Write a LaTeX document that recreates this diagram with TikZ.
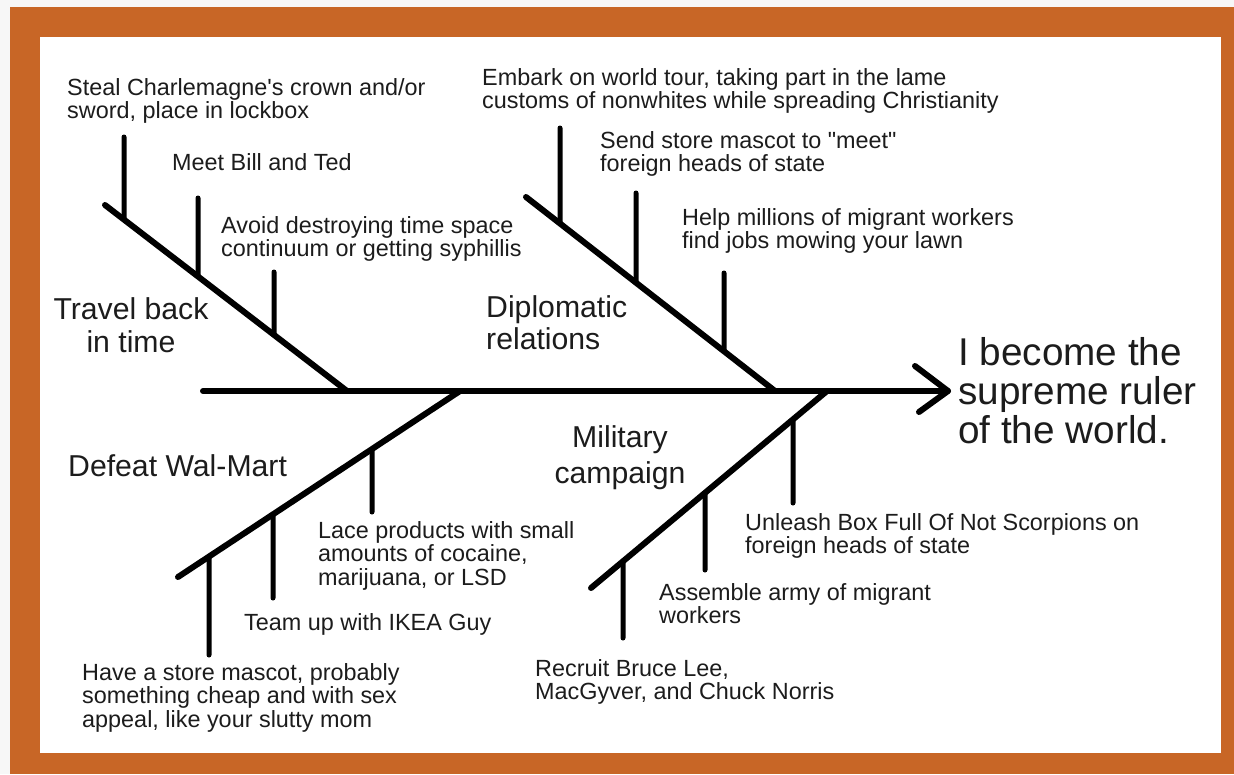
\documentclass[tikz,border=0pt]{standalone}
\usepackage{fontspec}
\setmainfont{Liberation Sans}[Ligatures=TeXOff]
\definecolor{frameorange}{RGB}{200,102,38}
\definecolor{ink}{RGB}{28,28,28}
\definecolor{paper}{RGB}{247,247,247}
\begin{document}
\begin{tikzpicture}[x=1pt,y=-1pt,
  bone/.style={line width=6pt,line cap=round,draw=black},
  twig/.style={line width=5pt,line cap=round,draw=black},
  cause/.style={anchor=base west,inner sep=0pt,align=left,text=ink,font=\fontsize{23.4}{23.5}\selectfont},
  cat/.style={anchor=base west,inner sep=0pt,align=left,text=ink,font=\fontsize{30.2}{32}\selectfont},
  catc/.style={anchor=base,inner sep=0pt,align=center,text=ink,font=\fontsize{30.2}{33}\selectfont},
  goal/.style={anchor=base west,inner sep=0pt,align=left,text=ink,font=\fontsize{38.7}{38.6}\selectfont}]
\useasboundingbox (0,0) rectangle (1234,774);
\fill[paper] (0,0) rectangle (1234,774);
\fill[frameorange] (10,7) rectangle (1234,774);
\fill[white] (40,37) rectangle (1221,753);

% spine and arrow
\coordinate (S) at (203,391);
\coordinate (H) at (948,391);
\coordinate (A1) at (915,366);
\coordinate (A2) at (919,412);
\draw[bone] (S) -- (H);
\draw[bone,line join=round] (A1) -- (H) -- (A2);

% main bones
\coordinate (T1) at (105,205); \coordinate (T2) at (347,391);
\coordinate (D1) at (526,197); \coordinate (D2) at (775,391);
\coordinate (W1) at (460,391); \coordinate (W2) at (178,577);
\coordinate (M1) at (827,391); \coordinate (M2) at (591,588);
\draw[bone] (T1) -- (T2);
\draw[bone] (D1) -- (D2);
\draw[bone] (W1) -- (W2);
\draw[bone] (M1) -- (M2);

% twigs: free ends
\coordinate (t1) at (124,137); \coordinate (t2) at (198,198); \coordinate (t3) at (274,272);
\coordinate (d1) at (560,128); \coordinate (d2) at (636,193); \coordinate (d3) at (724,273);
\coordinate (w1) at (372,512); \coordinate (w2) at (273,598); \coordinate (w3) at (209,655);
\coordinate (m1) at (793,503); \coordinate (m2) at (705,570); \coordinate (m3) at (623,638);
% twig roots on the bones
\coordinate (t1b) at (intersection of T1--T2 and 124,0--124,700);
\coordinate (t2b) at (intersection of T1--T2 and 198,0--198,700);
\coordinate (t3b) at (intersection of T1--T2 and 274,0--274,700);
\coordinate (d1b) at (intersection of D1--D2 and 560,0--560,700);
\coordinate (d2b) at (intersection of D1--D2 and 636,0--636,700);
\coordinate (d3b) at (intersection of D1--D2 and 724,0--724,700);
\coordinate (w1b) at (intersection of W1--W2 and 372,0--372,700);
\coordinate (w2b) at (intersection of W1--W2 and 273,0--273,700);
\coordinate (w3b) at (intersection of W1--W2 and 209,0--209,700);
\coordinate (m1b) at (intersection of M1--M2 and 793,0--793,700);
\coordinate (m2b) at (intersection of M1--M2 and 705,0--705,700);
\coordinate (m3b) at (intersection of M1--M2 and 623,0--623,700);
\foreach \n in {t1,t2,t3,d1,d2,d3,w1,w2,w3,m1,m2,m3}
  \draw[twig] (\n) -- (\n b);

% labels (anchor = baseline of the last line)
\node[cause] (lt1) at (67,118.5) {Steal Charlemagne's crown and/or\\sword, place in lockbox};
\node[cause] (lt2) at (172,170) {Meet Bill and Ted};
\node[cause] (lt3) at (221,256.5) {Avoid destroying time space\\continuum or getting syphillis};
\node[catc] (ct) at (131,352) {Travel back\\in time};

\node[cause] (ld1) at (482,108.5) {Embark on world tour, taking part in the lame\\customs of nonwhites while spreading Christianity};
\node[cause] (ld2) at (600,171.5) {Send store mascot to "meet"\\foreign heads of state};
\node[cause] (ld3) at (682,248.5) {Help millions of migrant workers\\find jobs mowing your lawn};
\node[cat] (cd) at (486,349) {Diplomatic\\relations};

\node[goal] (goal) at (958,443) {I become the\\supreme ruler\\of the world.};

\node[cat] (cw) at (68,476) {Defeat Wal-Mart};
\node[cause] (lw1) at (318,585) {Lace products with small\\amounts of cocaine,\\marijuana, or LSD};
\node[cause] (lw2) at (244,630) {Team up with IKEA Guy};
\node[cause] (lw3) at (82,727) {Have a store mascot, probably\\something cheap and with sex\\appeal, like your slutty mom};

\node[catc,font=\fontsize{30.2}{36}\selectfont] (cm) at (620,483) {Military\\campaign};
\node[cause] (lm1) at (745,553.5) {Unleash Box Full Of Not Scorpions on\\foreign heads of state};
\node[cause] (lm2) at (659,623.5) {Assemble army of migrant\\workers};
\node[cause] (lm3) at (535,699.5) {Recruit Bruce Lee,\\MacGyver, and Chuck Norris};
\end{tikzpicture}
\end{document}
